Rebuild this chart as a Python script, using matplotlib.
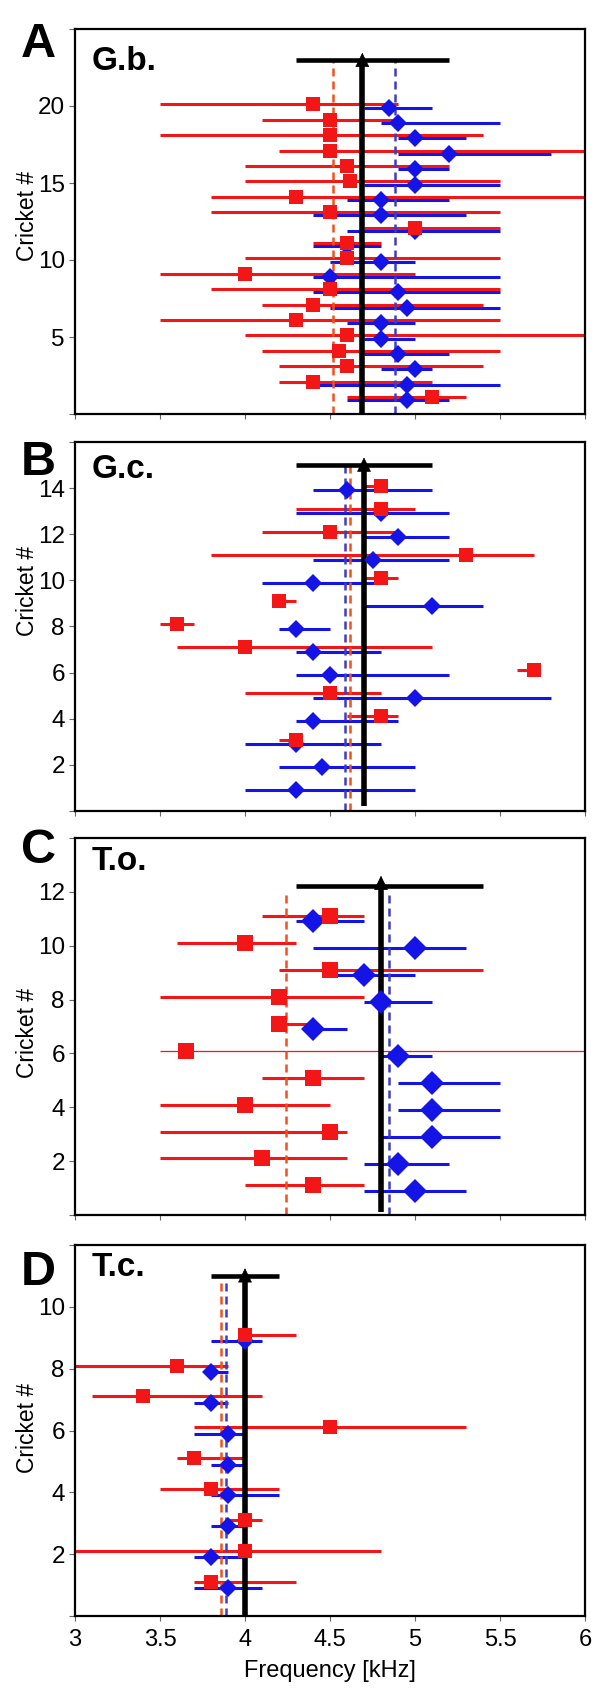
import matplotlib
matplotlib.use('Agg')
import matplotlib.pyplot as plt
from matplotlib.ticker import FixedLocator

plt.rcParams['font.family'] = ['Liberation Sans', 'DejaVu Sans']

RED = '#f21616'
BLUE = '#1414e6'
RED_DASH = '#f0501e'
BLUE_DASH = '#3c3cc4'

# ---- A: G.b. (crickets 1..20) ----
gb_red_rows = list(range(1, 21))
gb_red_med = [5.1, 4.4, 4.6, 4.55, 4.6, 4.3, 4.4, 4.5, 4.0, 4.6,
              4.6, 5.0, 4.5, 4.3, 4.62, 4.6, 4.5, 4.5, 4.5, 4.4]
gb_red_lo = [4.6, 4.2, 4.2, 4.1, 4.0, 3.5, 4.1, 3.8, 3.5, 4.0,
             4.4, 4.7, 3.8, 3.8, 4.0, 4.0, 4.2, 3.5, 4.1, 3.5]
gb_red_hi = [5.3, 5.1, 5.4, 5.5, 6.0, 5.5, 5.4, 5.5, 5.0, 5.5,
             4.8, 5.5, 5.5, 6.0, 5.5, 5.2, 6.0, 5.4, 4.9, 4.9]
gb_blue_rows = list(range(1, 21))
gb_blue_med = [4.95, 4.95, 5.0, 4.9, 4.8, 4.8, 4.95, 4.9, 4.5, 4.8,
               4.6, 5.0, 4.8, 4.8, 5.0, 5.0, 5.2, 5.0, 4.9, 4.85]
gb_blue_lo = [4.6, 4.4, 4.8, 4.7, 4.7, 4.6, 4.5, 4.4, 4.4, 4.5,
              4.4, 4.6, 4.4, 4.6, 4.7, 4.9, 4.9, 4.9, 4.8, 4.7]
gb_blue_hi = [5.2, 5.5, 5.1, 5.2, 5.0, 5.0, 5.5, 5.5, 5.5, 5.0,
              4.8, 5.5, 5.3, 5.2, 5.5, 5.2, 5.8, 5.3, 5.5, 5.1]
# red mean, blue mean, overall mean, overall lo, overall hi, row of overall bar
gb_means = [4.52, 4.88, 4.69, 4.3, 5.2, 23.0]

# ---- B: G.c. ----
gc_red_rows = list(range(3, 15))
gc_red_med = [4.3, 4.8, 4.5, 5.7, 4.0, 3.6, 4.2, 4.8, 5.3, 4.5, 4.8, 4.8]
gc_red_lo = [4.2, 4.6, 4.0, 5.6, 3.6, 3.5, 4.2, 4.7, 3.8, 4.1, 4.3, 4.7]
gc_red_hi = [4.3, 4.9, 4.8, 5.7, 5.1, 3.7, 4.3, 4.9, 5.7, 4.9, 5.0, 4.8]
gc_blue_rows = list(range(1, 15))
gc_blue_med = [4.3, 4.45, 4.3, 4.4, 5.0, 4.5, 4.4, 4.3, 5.1, 4.4, 4.75, 4.9, 4.8, 4.6]
gc_blue_lo = [4.0, 4.2, 4.0, 4.3, 4.4, 4.3, 4.3, 4.2, 4.7, 4.1, 4.4, 4.7, 4.3, 4.4]
gc_blue_hi = [5.0, 5.0, 4.8, 4.9, 5.8, 5.2, 4.8, 4.5, 5.4, 4.8, 5.2, 5.2, 5.2, 5.1]
gc_means = [4.62, 4.59, 4.70, 4.3, 5.1, 15.0]

# ---- C: T.o. ----
to_red_rows = list(range(1, 12))
to_red_med = [4.4, 4.1, 4.5, 4.0, 4.4, 3.65, 4.2, 4.2, 4.5, 4.0, 4.5]
to_red_lo = [4.0, 3.5, 3.5, 3.5, 4.1, 3.5, 4.2, 3.5, 4.2, 3.6, 4.1]
to_red_hi = [4.7, 4.6, 4.6, 4.5, 4.7, 6.0, 4.4, 4.7, 5.4, 4.3, 4.7]
to_blue_rows = list(range(1, 12))
to_blue_med = [5.0, 4.9, 5.1, 5.1, 5.1, 4.9, 4.4, 4.8, 4.7, 5.0, 4.4]
to_blue_lo = [4.7, 4.7, 4.8, 4.9, 4.9, 4.8, 4.4, 4.7, 4.5, 4.4, 4.3]
to_blue_hi = [5.3, 5.2, 5.5, 5.5, 5.5, 5.1, 4.6, 5.1, 5.0, 5.3, 4.7]
to_means = [4.24, 4.85, 4.80, 4.3, 5.4, 12.22]

# ---- D: T.c. ----
tc_red_rows = list(range(1, 10))
tc_red_med = [3.8, 4.0, 4.0, 3.8, 3.7, 4.5, 3.4, 3.6, 4.0]
tc_red_lo = [3.7, 3.0, 3.9, 3.5, 3.6, 3.7, 3.1, 3.0, 4.0]
tc_red_hi = [4.3, 4.8, 4.1, 4.2, 4.0, 5.3, 4.1, 3.9, 4.3]
tc_blue_rows = list(range(1, 10))
tc_blue_med = [3.9, 3.8, 3.9, 3.9, 3.9, 3.9, 3.8, 3.8, 4.0]
tc_blue_lo = [3.7, 3.7, 3.8, 3.8, 3.8, 3.7, 3.7, 3.8, 3.8]
tc_blue_hi = [4.1, 4.0, 4.0, 4.2, 4.0, 4.0, 3.9, 3.9, 4.1]
tc_means = [3.86, 3.89, 4.00, 3.8, 4.2, 11.0]

letters = ['A', 'B', 'C', 'D']
species = ['G.b.', 'G.c.', 'T.o.', 'T.c.']
y_max = [25, 16, 14, 12]
y_step = [5, 2, 2, 2]
x_ticks = [3, 3.5, 4, 4.5, 5, 5.5, 6]
x_tick_labels = ['3', '3.5', '4', '4.5', '5', '5.5', '6']

# layout (pixels of the 600x1694 output)
W, H = 600, 1694
ax_left, ax_right = 75, 585
ax_tops = [29, 442, 838, 1245]
ax_bots = [414, 811, 1215, 1616]
letter_tops = [22, 440, 828, 1250]
species_tops = [46, 454, 846, 1252]
ylabel_y = [0.514, 0.596, 0.483, 0.507]
arrow_tip = [23.46, 15.33, 12.6, 11.25]
dash_top = [23.0, 15.0, 12.0, 10.9]
line_bottom = [0.0, 0.2, 0.12, 0.0]
sq_size = [9.5, 9.5, 11, 9.5]
dia_size = [9.2, 9.2, 12, 8.8]
thin_bars = {(2, 6)}   # panel C, cricket 6: thin red line

red_data = [
    (gb_red_rows, gb_red_med, gb_red_lo, gb_red_hi),
    (gc_red_rows, gc_red_med, gc_red_lo, gc_red_hi),
    (to_red_rows, to_red_med, to_red_lo, to_red_hi),
    (tc_red_rows, tc_red_med, tc_red_lo, tc_red_hi),
]
blue_data = [
    (gb_blue_rows, gb_blue_med, gb_blue_lo, gb_blue_hi),
    (gc_blue_rows, gc_blue_med, gc_blue_lo, gc_blue_hi),
    (to_blue_rows, to_blue_med, to_blue_lo, to_blue_hi),
    (tc_blue_rows, tc_blue_med, tc_blue_lo, tc_blue_hi),
]
means = [gb_means, gc_means, to_means, tc_means]

fig = plt.figure(figsize=(W / 100, H / 100), dpi=100)

for i in range(4):
    top, bot = ax_tops[i], ax_bots[i]
    ax = fig.add_axes([ax_left / W, 1 - bot / H, (ax_right - ax_left) / W, (bot - top) / H])
    ax.set_xlim(3, 6)
    ax.set_ylim(0, y_max[i])

    rows, med, lo, hi = blue_data[i]
    yb = [r - 0.1 for r in rows]
    ax.hlines(yb, lo, hi, color=BLUE, lw=2.2, zorder=2)
    rows_r, med_r, lo_r, hi_r = red_data[i]
    yr = [r + 0.1 for r in rows_r]
    for r, y, a, b in zip(rows_r, yr, lo_r, hi_r):
        lw = 0.9 if (i, r) in thin_bars else 2.2
        ax.hlines(y, a, b, color=RED, lw=lw, zorder=2.1)

    m_red, m_blue, m_all, m_lo, m_hi, bar_y = means[i]
    ax.plot([m_red, m_red], [0, dash_top[i]], color=RED_DASH, lw=1.8,
            dashes=[3.2, 2.0], zorder=2.5)
    ax.plot([m_blue, m_blue], [0, dash_top[i]], color=BLUE_DASH, lw=1.8,
            dashes=[3.2, 2.0], zorder=2.5)

    # overall mean: vertical line with arrow head, horizontal range bar
    px_per_unit = (bot - top) / y_max[i]
    head_len = 0.45 * 21 * 100 / 72 / px_per_unit
    ax.plot([m_all, m_all], [line_bottom[i], arrow_tip[i] - 0.6 * head_len],
            color='k', lw=4, solid_capstyle='butt', zorder=3)
    ax.annotate('', xy=(m_all, arrow_tip[i]), xytext=(m_all, arrow_tip[i] - 2 * head_len),
                arrowprops=dict(arrowstyle='-|>,head_length=0.45,head_width=0.22',
                                mutation_scale=21, lw=0.5, color='k',
                                shrinkA=0, shrinkB=0), zorder=6)
    ax.plot([m_lo, m_hi], [bar_y, bar_y], color='k', lw=3.3,
            solid_capstyle='butt', zorder=5)

    ax.plot(med, yb, 'D', color=BLUE, ms=dia_size[i], mew=0, zorder=4)
    ax.plot(med_r, yr, 's', color=RED, ms=sq_size[i], mew=0, zorder=4.5)

    # labelled ticks as major, unlabelled end ticks as minor
    ax.set_yticks(list(range(y_step[i], y_max[i], y_step[i])))
    ax.yaxis.set_minor_locator(FixedLocator([0, y_max[i]]))
    ax.set_xticks(x_ticks)
    if i == 3:
        ax.set_xticklabels(x_tick_labels)
        ax.set_xlabel('Frequency [kHz]', fontsize=17, labelpad=6)
    else:
        ax.tick_params(axis='x', labelbottom=False)
    ax.tick_params(axis='y', which='both', direction='out', length=4.3, width=0.8,
                   color='#666666', labelsize=17.5, pad=3)
    ax.tick_params(axis='x', direction='out', length=3.6, width=0.8,
                   color='#666666', labelsize=17, pad=6)
    for s in ax.spines.values():
        s.set_linewidth(1.6)
    ax.set_ylabel('Cricket #', fontsize=16.5)
    ax.yaxis.set_label_coords(-0.07, ylabel_y[i])

    fig.text(21 / W, 1 - letter_tops[i] / H, letters[i], fontsize=35,
             fontweight='bold', ha='left', va='top')
    fig.text(92 / W, 1 - species_tops[i] / H, species[i], fontsize=24,
             fontweight='bold', ha='left', va='top')

fig.savefig('out.png', dpi=100)
